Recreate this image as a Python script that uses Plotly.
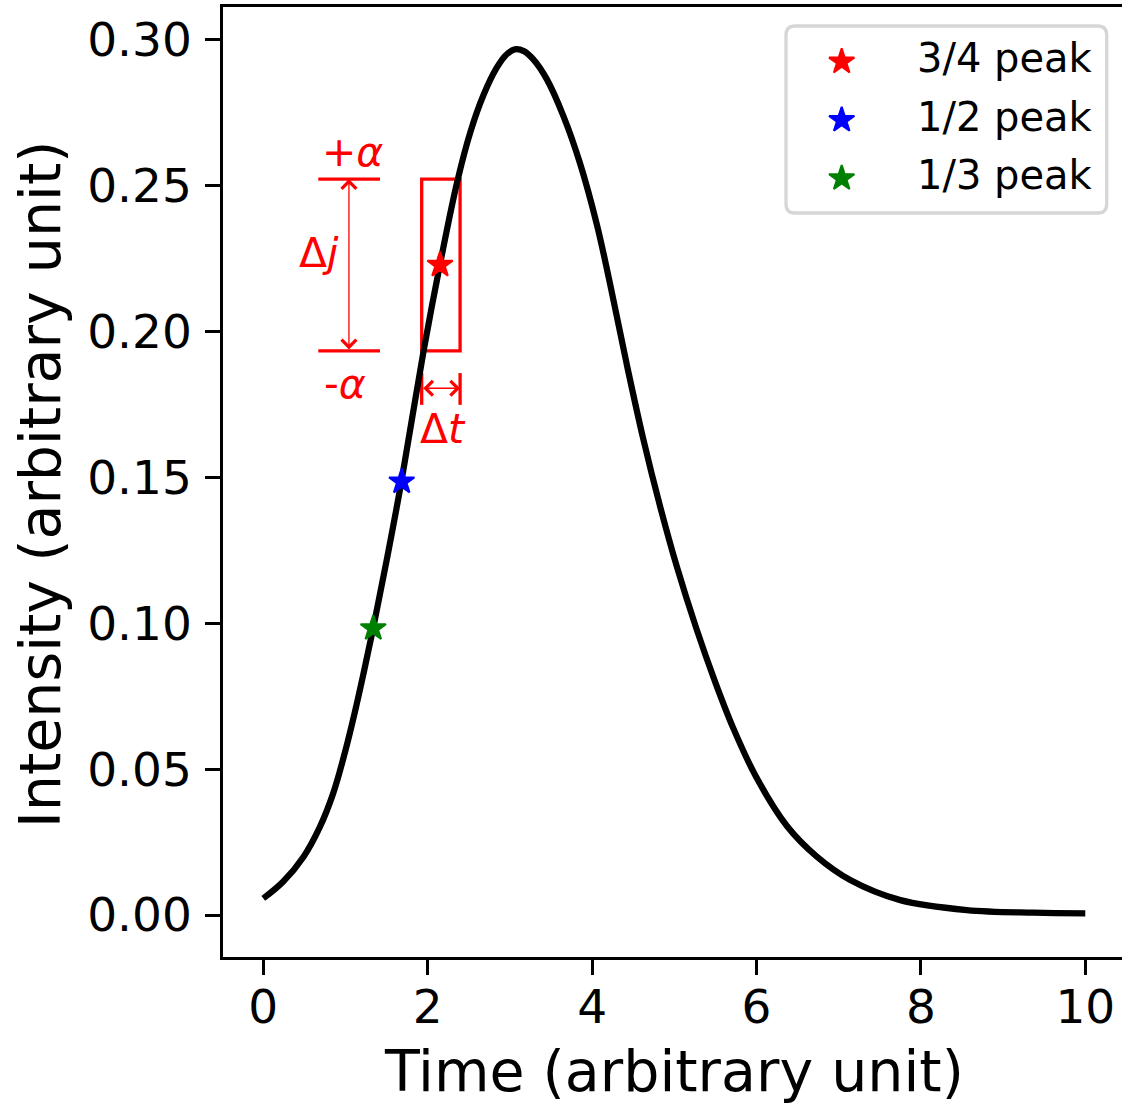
import plotly.graph_objects as go

# ---- data ----
time = [0.00, 0.24, 0.49, 0.69, 0.85, 0.99, 1.12, 1.22, 1.34, 1.50, 1.68, 1.95, 2.17,
        2.36, 2.52, 2.68, 2.84, 2.95, 3.06, 3.17, 3.28, 3.45, 3.65, 3.85, 4.06, 4.24,
        4.42, 4.62, 4.83, 5.03, 5.27, 5.50, 5.72, 6.00, 6.37, 6.73, 7.14, 7.75, 8.56,
        9.37, 10.00]
intensity = [0.0057, 0.0114, 0.0200, 0.0303, 0.0417, 0.0554, 0.0703, 0.0829, 0.0988,
             0.1215, 0.1486, 0.1934, 0.2260, 0.2515, 0.2685, 0.2812, 0.2905, 0.2948,
             0.2968, 0.2962, 0.2935, 0.2865, 0.2740, 0.2580, 0.2365, 0.2135, 0.1890,
             0.1635, 0.1398, 0.1195, 0.0981, 0.0797, 0.0639, 0.0471, 0.0305, 0.0201,
             0.0120, 0.0051, 0.0017, 0.0008, 0.0006]

peak_names = ["3/4 peak", "1/2 peak", "1/3 peak"]
peak_time = [2.15, 1.684, 1.338]
peak_val = [0.2229, 0.1486, 0.0983]
peak_colors = ["red", "blue", "green"]

x_ticks = [0, 2, 4, 6, 8, 10]
y_ticks = [0.00, 0.05, 0.10, 0.15, 0.20, 0.25, 0.30]

# annotation geometry (data units)
alpha_hi, alpha_lo = 0.2523, 0.1934
box_t0, box_t1 = 1.927, 2.394
dj_t = 1.042
bar_t0, bar_t1 = 0.669, 1.42
dt_y = 0.1806
dt_tick_lo, dt_tick_hi = 0.1749, 0.1858

# ---- layout frame in pixels ----
FW, FH = 1122, 1105
L, R, T, B = 223, 1122, 7, 957
W, H = R - L, B - T


def px_x(p):
    return (p - L) / W


def px_y(p):
    return (B - p) / H


FONT = "DejaVu Sans"
RED = "#ff0000"

fig = go.Figure()

fig.add_trace(go.Scatter(x=time, y=intensity, mode="lines",
                         line=dict(color="black", width=6.25, shape="spline", smoothing=1.0),
                         showlegend=False, hoverinfo="skip"))

for n, t, v, c in zip(peak_names, peak_time, peak_val, peak_colors):
    fig.add_trace(go.Scatter(x=[t], y=[v], mode="markers", name=n,
                             marker=dict(symbol="star", size=19, color=c,
                                         line=dict(color=c, width=2)),
                             showlegend=False))

# legend stars on an overlay axis (0..1 = plot area)
leg_x = px_x(841.7)
leg_ys = [px_y(61.7), px_y(120.0), px_y(178.3)]
for n, c, ly in zip(peak_names, peak_colors, leg_ys):
    fig.add_trace(go.Scatter(x=[leg_x], y=[ly], xaxis="x2", yaxis="y2", mode="markers",
                             marker=dict(symbol="star", size=19, color=c,
                                         line=dict(color=c, width=2)),
                             showlegend=False, hoverinfo="skip"))

shapes = []
# legend frame (rounded rectangle)
lx0, lx1, ly0, ly1, rr = 786.0, 1106.7, 26.0, 213.0, 9.0
path = (f"M {px_x(lx0 + rr)},{px_y(ly0)} L {px_x(lx1 - rr)},{px_y(ly0)} "
        f"Q {px_x(lx1)},{px_y(ly0)} {px_x(lx1)},{px_y(ly0 + rr)} "
        f"L {px_x(lx1)},{px_y(ly1 - rr)} Q {px_x(lx1)},{px_y(ly1)} {px_x(lx1 - rr)},{px_y(ly1)} "
        f"L {px_x(lx0 + rr)},{px_y(ly1)} Q {px_x(lx0)},{px_y(ly1)} {px_x(lx0)},{px_y(ly1 - rr)} "
        f"L {px_x(lx0)},{px_y(ly0 + rr)} Q {px_x(lx0)},{px_y(ly0)} {px_x(lx0 + rr)},{px_y(ly0)} Z")
shapes.append(dict(type="path", xref="paper", yref="paper", path=path,
                   line=dict(color="#d6d6d6", width=3.3), fillcolor="rgba(255,255,255,0.8)",
                   layer="below"))
# red box
shapes.append(dict(type="rect", xref="x", yref="y", x0=box_t0, x1=box_t1, y0=alpha_lo, y1=alpha_hi,
                   line=dict(color=RED, width=3.3), fillcolor="rgba(0,0,0,0)", layer="below"))
# +alpha / -alpha bars
for yv in (alpha_hi, alpha_lo):
    shapes.append(dict(type="line", xref="x", yref="y", x0=bar_t0, x1=bar_t1, y0=yv, y1=yv,
                       line=dict(color=RED, width=3.3), layer="below"))
# delta-t end ticks
for tv in (box_t0, box_t1):
    shapes.append(dict(type="line", xref="x", yref="y", x0=tv, x1=tv, y0=dt_tick_lo, y1=dt_tick_hi,
                       line=dict(color=RED, width=3.3), layer="below"))

annotations = []
# double arrows
annotations.append(dict(x=dj_t, y=alpha_hi, ax=dj_t, ay=alpha_lo, xref="x", yref="y",
                        axref="x", ayref="y", text="", showarrow=True, arrowhead=4,
                        arrowside="end+start", arrowsize=2.2, arrowwidth=1.3, arrowcolor=RED))
annotations.append(dict(x=box_t1, y=dt_y, ax=box_t0, ay=dt_y, xref="x", yref="y",
                        axref="x", ayref="y", text="", showarrow=True, arrowhead=4,
                        arrowside="end+start", arrowsize=2.2, arrowwidth=1.3, arrowcolor=RED))

red_font = dict(family=FONT, size=41, color=RED)
annotations.append(dict(x=1.085, y=0.2616, xref="x", yref="y", text="+<i>α</i>", showarrow=False,
                        font=red_font, xanchor="center", yanchor="middle"))
annotations.append(dict(x=0.994, y=0.1819, xref="x", yref="y", text="-<i>α</i>", showarrow=False,
                        font=red_font, xanchor="center", yanchor="middle"))
annotations.append(dict(x=0.678, y=0.2270, xref="x", yref="y", text="Δ<i>j</i>", showarrow=False,
                        font=red_font, xanchor="center", yanchor="middle"))
annotations.append(dict(x=2.18, y=0.1665, xref="x", yref="y", text="Δ<i>t</i>", showarrow=False,
                        font=red_font, xanchor="center", yanchor="middle"))

# legend texts
for n, ly in zip(peak_names, [58.3, 116.6, 175.0]):
    annotations.append(dict(x=px_x(914.5), y=px_y(ly), xref="paper", yref="paper", text=n,
                            showarrow=False, xanchor="left", yanchor="middle",
                            font=dict(family=FONT, size=40, color="black")))

# axis titles
annotations.append(dict(x=px_x(674), y=px_y(1071), xref="paper", yref="paper",
                        text="Time (arbitrary unit)", showarrow=False, xanchor="center",
                        yanchor="middle", font=dict(family=FONT, size=57, color="black")))
annotations.append(dict(x=px_x(40), y=px_y(484), xref="paper", yref="paper",
                        text="Intensity (arbitrary unit)", showarrow=False, textangle=-90,
                        xanchor="center", yanchor="middle",
                        font=dict(family=FONT, size=57, color="black")))

x_range = [(L - 263.3) / 82.2, (R - 263.3) / 82.2]
y_range = [(915 - B) / 2916.7, (915 - T) / 2916.7]

fig.update_layout(
    width=FW, height=FH,
    margin=dict(l=L, r=FW - R, t=T, b=FH - B, pad=0),
    paper_bgcolor="white", plot_bgcolor="white",
    font=dict(family=FONT, size=42, color="black"),
    showlegend=False,
    shapes=shapes, annotations=annotations,
    xaxis=dict(range=x_range, tickvals=x_ticks, ticktext=[str(v) for v in x_ticks],
               showgrid=False, zeroline=False, showline=True, mirror=True,
               linecolor="black", linewidth=3.3, ticks="outside", ticklen=14.6,
               tickwidth=3.3, tickcolor="black", tickfont=dict(family=FONT, size=47),
               ticklabelstandoff=-8),
    yaxis=dict(range=y_range, tickvals=y_ticks, ticktext=[f"{v:.2f}" for v in y_ticks],
               showgrid=False, zeroline=False, showline=True, mirror=False,
               linecolor="black", linewidth=3.3, ticks="outside", ticklen=14.6,
               tickwidth=3.3, tickcolor="black", tickfont=dict(family=FONT, size=47),
               ticklabelstandoff=4),
    xaxis2=dict(overlaying="x", range=[0, 1], visible=False, fixedrange=True),
    yaxis2=dict(overlaying="y", range=[0, 1], visible=False, fixedrange=True),
)

fig.write_html("out.html", config={"displayModeBar": False},
               post_script="document.body.style.margin='0';document.body.style.padding='0';")
